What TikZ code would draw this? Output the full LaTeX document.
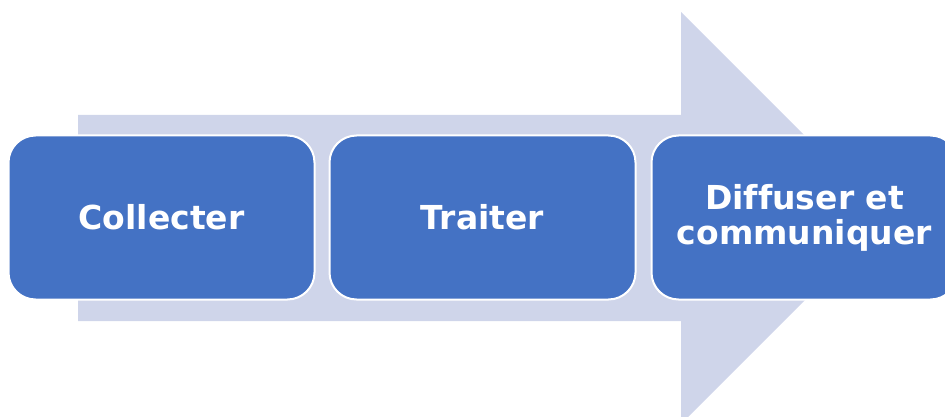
\documentclass[tikz,border=0pt]{standalone}
\usepackage{fontspec}
\setmainfont[Ligatures=NoCommon]{DejaVu Sans}
\definecolor{stageblue}{HTML}{4472C4}
\definecolor{arrowgrey}{HTML}{CFD5EA}
\begin{document}
\begin{tikzpicture}[x=1pt,y=-1pt,
    stage/.style={rectangle,rounded corners=27pt,fill=stageblue,draw=white,line width=2pt,
      minimum width=306pt,minimum height=164pt,text=white,align=center,
      font=\fontsize{33}{35}\selectfont\bfseries}]
    \useasboundingbox (0,0) rectangle (945,417);
    \clip (0,0) rectangle (945,417);

    % Big arrow behind the stages
    \fill[arrowgrey] (78,115) -- (681,115) -- (681,12) -- (887,218)
        -- (681,424) -- (681,321) -- (78,321) -- cycle;

    % Stages
    \node[stage] (collect) at (161.5,217.5) {Collecter};
    \node[stage] (process) at (482.5,217.5) {Traiter};
    \node[stage] (share) at (804.5,217.5) {Diffuser et\\communiquer};
\end{tikzpicture}
\end{document}
